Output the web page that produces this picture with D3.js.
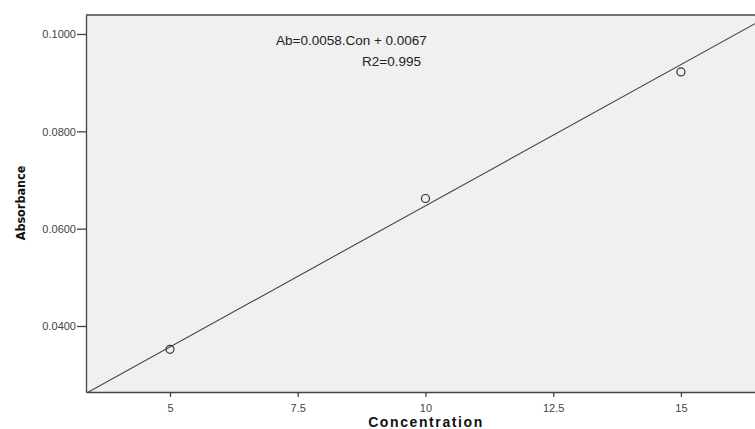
<!DOCTYPE html>
<html>
<head>
<meta charset="utf-8">
<script src="https://cdn.jsdelivr.net/npm/d3@7"></script>
<style>
  body { margin: 0; background: #fff; }
  svg { display: block; }
</style>
</head>
<body>
<div id="chart"></div>
<script>
(function () {
  'use strict';

  // data
  var concentration = [5, 10, 15];
  var absorbance = [0.0352, 0.0662, 0.0922];
  var xTicks = [5, 7.5, 10, 12.5, 15];
  var yTicks = [0.04, 0.06, 0.08, 0.10];
  var fitSlope = 0.0058;
  var fitIntercept = 0.0067;
  var equationLines = ["Ab=0.0058.Con + 0.0067", "R2=0.995"];

  var width = 755, height = 429;
  var margin = { top: 15, right: 0, bottom: 37, left: 86 };

  var svg = d3.select("#chart").append("svg")
      .attr("width", width)
      .attr("height", height);

  var x = d3.scaleLinear()
      .domain([3.356, 16.45])
      .range([margin.left, width - margin.right]);

  var y = d3.scaleLinear()
      .domain([0.02644, 0.1039])
      .range([height - margin.bottom, margin.top]);

  // plot background
  svg.append("rect")
      .attr("x", margin.left)
      .attr("y", margin.top)
      .attr("width", width - margin.left - margin.right)
      .attr("height", height - margin.top - margin.bottom)
      .attr("fill", "#f0f0f0");

  svg.append("clipPath").attr("id", "plotClip")
    .append("rect")
      .attr("x", margin.left)
      .attr("y", margin.top)
      .attr("width", width - margin.left - margin.right)
      .attr("height", height - margin.top - margin.bottom);

  // fit line
  var xd = x.domain();
  svg.append("line")
      .attr("clip-path", "url(#plotClip)")
      .attr("x1", x(xd[0]))
      .attr("y1", y(fitSlope * xd[0] + fitIntercept))
      .attr("x2", x(xd[1]))
      .attr("y2", y(fitSlope * xd[1] + fitIntercept))
      .attr("stroke", "#444")
      .attr("stroke-width", 1.1);

  // points
  svg.selectAll(".pt")
      .data(concentration)
      .enter().append("circle")
      .attr("class", "pt")
      .attr("cx", function(d) { return x(d); })
      .attr("cy", function(d, i) { return y(absorbance[i]); })
      .attr("r", 4)
      .attr("fill", "none")
      .attr("stroke", "#333")
      .attr("stroke-width", 1.2);

  // axes
  var xAxis = svg.append("g")
      .attr("transform", "translate(0," + (height - margin.bottom) + ")")
      .call(d3.axisBottom(x).tickValues(xTicks).tickSize(5).tickSizeOuter(0)
        .tickFormat(function(d) { return String(d); }));

  var yAxis = svg.append("g")
      .attr("transform", "translate(" + margin.left + ",0)")
      .call(d3.axisLeft(y).tickValues(yTicks).tickSize(9).tickSizeOuter(0)
        .tickFormat(d3.format(".4f")));

  [xAxis, yAxis].forEach(function(g) {
    g.select(".domain").attr("stroke", "#444").attr("stroke-width", 1.3);
    g.selectAll(".tick line").attr("stroke", "#444").attr("stroke-width", 1.3);
    g.selectAll(".tick text")
        .attr("fill", "#444")
        .style("font-family", "'Liberation Sans', Arial, sans-serif")
        .style("font-size", "11px");
  });
  xAxis.selectAll(".tick text").attr("dy", "1.1em");
  yAxis.selectAll(".tick text").attr("x", -10).attr("dy", "0.35em");

  // top border
  svg.append("line")
      .attr("x1", margin.left).attr("y1", margin.top)
      .attr("x2", width).attr("y2", margin.top)
      .attr("stroke", "#444").attr("stroke-width", 1.3);

  // axis titles
  svg.append("text")
      .attr("x", 426)
      .attr("y", 427)
      .attr("text-anchor", "middle")
      .style("font-family", "'Liberation Sans', Arial, sans-serif")
      .style("font-weight", "bold")
      .style("font-size", "14px")
      .style("letter-spacing", "1.6px")
      .attr("fill", "#111")
      .text("Concentration");

  svg.append("text")
      .attr("transform", "translate(25,203) rotate(-90)")
      .attr("text-anchor", "middle")
      .style("font-family", "'DejaVu Sans Condensed', 'DejaVu Sans', sans-serif")
      .style("font-weight", "bold")
      .style("font-size", "12.5px")
      .attr("fill", "#111")
      .text("Absorbance");

  // equation
  svg.append("text")
      .attr("x", 276)
      .attr("y", 45)
      .style("font-family", "'Liberation Sans', Arial, sans-serif")
      .style("font-size", "13.5px")
      .attr("fill", "#222")
      .text(equationLines[0]);

  svg.append("text")
      .attr("x", 362)
      .attr("y", 66)
      .style("font-family", "'Liberation Sans', Arial, sans-serif")
      .style("font-size", "13.5px")
      .attr("fill", "#222")
      .text(equationLines[1]);

}());
</script>
</body>
</html>
